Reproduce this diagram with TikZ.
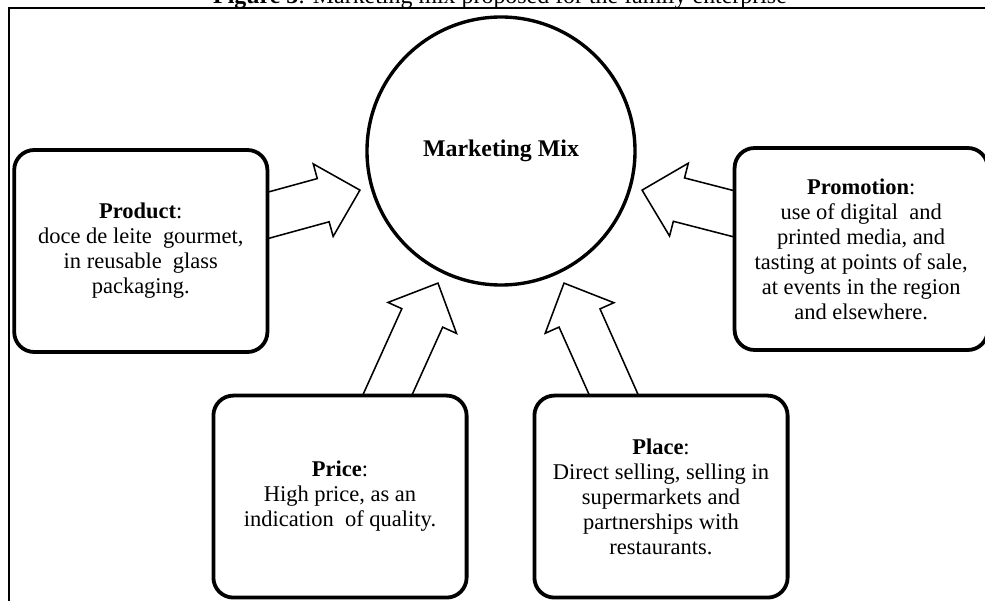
\documentclass[tikz,border=0pt]{standalone}
\usepackage{fontspec}
\setmainfont{Liberation Serif}
\usetikzlibrary{positioning, calc, backgrounds}

\newcommand{\blockarrow}[2]{%
\draw[barrow] let \p1=($(#2)-(#1)$), \n1={atan2(\y1,\x1)}, \n2={veclen(\x1,\y1)-0.95cm} in ($(#1)+(\n1+90:0.56cm)$) -- ++(\n1:\n2) -- ++(\n1+90:0.38cm) -- (#2) -- ($(#1)+(\n1:\n2)+(\n1-90:0.94cm)$) -- ++(\n1+90:0.38cm) -- ++(\n1+180:\n2) -- cycle;}

\begin{document}
\begin{tikzpicture}[node distance=2.4cm, box/.style={rectangle, draw, line width=2.7pt, rounded corners=0.5cm, minimum width=6.33cm, minimum height=5.05cm, align=center, fill=white, font=\fontsize{16}{17.8}\selectfont}, barrow/.style={draw, line width=1.1pt, fill=white, line join=miter}]
\useasboundingbox (0,0) rectangle (24.625,15);
\draw[line width=1.2pt] (0.225,-0.5) |- (25,14.8);
\node[anchor=base, font=\fontsize{17}{20}\selectfont] (title) at (12.5,14.9) {\textbf{Figure 3}: Marketing mix proposed for the family enterprise};
\node[circle, draw, line width=2.4pt, minimum size=6.7cm, fill=white, font=\fontsize{17}{20}\selectfont\bfseries] (mix) at (12.525,11.225) {Marketing Mix};
\node[box, left=2.4cm of mix, yshift=-2.5cm] (prod) {\textbf{Product}:\\doce de leite\ \ gourmet,\\in reusable\ \ glass\\packaging.};
\node[box, right=2.4cm of mix, yshift=-2.45cm] (prom) {\textbf{Promotion}:\\use of digital\ \ and\\printed media, and\\tasting at points of sale,\\at events in the region\\and elsewhere.};
\node[box, below=2.675cm of mix, xshift=-4.025cm] (price) {\textbf{Price}:\\High price, as an\\indication\ \ of quality.};
\node[box, below=2.675cm of mix, xshift=4cm] (place) {\textbf{Place}:\\Direct selling, selling in\\supermarkets and\\partnerships with\\restaurants.};
\coordinate (a1) at ($(prod.east)+(-0.77,0.69)$);
\coordinate (t1) at ($(mix.center)+(195.5:3.66)$);
\coordinate (a2) at ($(prom.west)+(0.77,0.69)$);
\coordinate (t2) at ($(mix.center)+(344.5:3.66)$);
\coordinate (a3) at ($(price.north)+(0.87,-0.73)$);
\coordinate (t3) at ($(mix.center)+(244.5:3.66)$);
\coordinate (a4) at ($(place.north)+(-0.87,-0.73)$);
\coordinate (t4) at ($(mix.center)+(295.5:3.66)$);
\begin{scope}[on background layer]
\blockarrow{a1}{t1}
\blockarrow{a2}{t2}
\blockarrow{a3}{t3}
\blockarrow{a4}{t4}
\end{scope}
\end{tikzpicture}
\end{document}
